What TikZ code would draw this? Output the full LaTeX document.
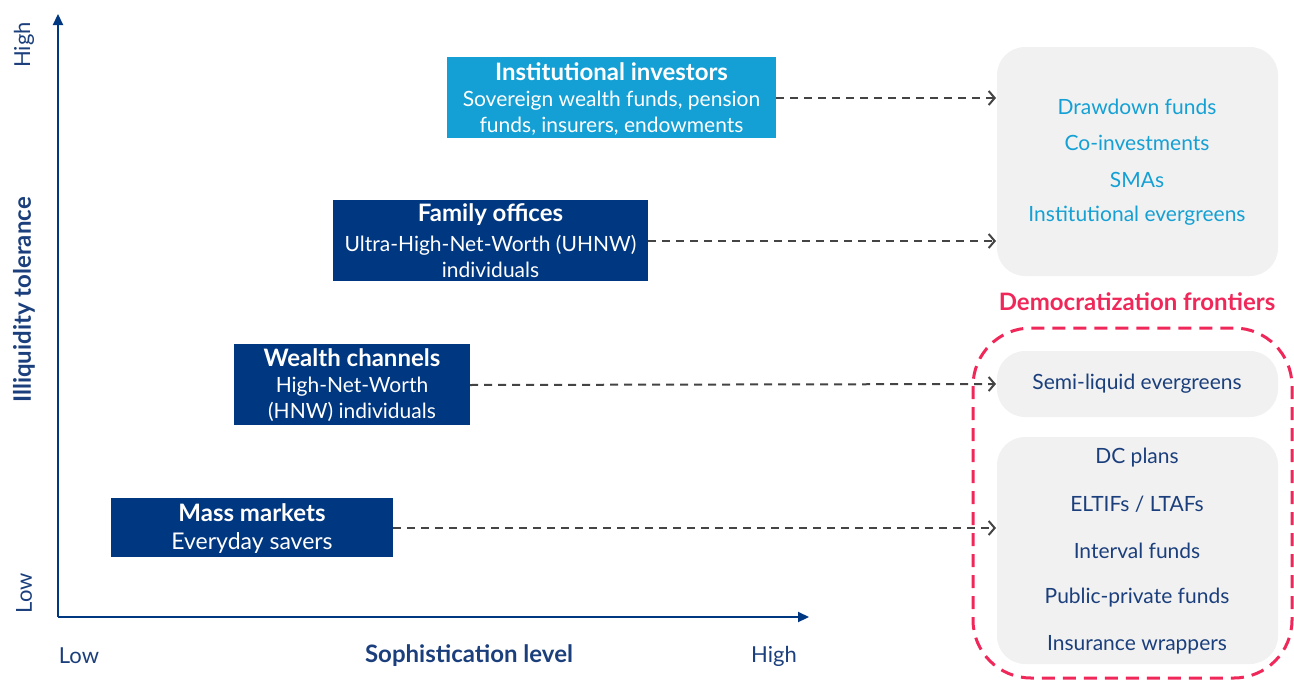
\documentclass[tikz,border=0pt]{standalone}
\usepackage{fontspec}
\setmainfont{Lato}
\usetikzlibrary{arrows.meta}
\definecolor{navy}{HTML}{003781}
\definecolor{navytext}{HTML}{1B3F7C}
\definecolor{skyblue}{HTML}{14A0D4}
\definecolor{panelgrey}{HTML}{F1F1F1}
\definecolor{frontier}{HTML}{F0285A}
\definecolor{linkgrey}{HTML}{444444}
\tikzset{
  x=1pt, y=-1pt,
  axis/.style={draw=navy, line width=2.2pt, -{Triangle[length=11pt,width=10pt]}},
  axislabel/.style={text=navytext, font=\fontsize{22}{26}\selectfont},
  axistitle/.style={text=navytext, font=\bfseries\fontsize{24}{28}\selectfont},
  boxtitle/.style={text=white, font=\bfseries\fontsize{24}{28}\selectfont, inner sep=0pt},
  boxbody/.style={text=white, align=center, font=\fontsize{21}{26}\selectfont, inner sep=0pt},
  link/.style={draw=linkgrey, line width=2pt, dash pattern=on 8pt off 6pt,
    -{Straight Barb[length=6pt,width=14pt,line width=2pt]}},
  panel/.style={fill=panelgrey, rounded corners=28pt},
  item/.style={font=\fontsize{21}{25}\selectfont},
}
\begin{document}
\begin{tikzpicture}
\useasboundingbox (0,0) rectangle (1294,680);

% axes
\coordinate (origin) at (58,617);
\coordinate (ytip) at (58,14);
\coordinate (xtip) at (809,617);
\draw[axis] (origin) -- (ytip);
\draw[axis] (origin) -- (xtip);
\node[axislabel, rotate=90] (yhigh) at (24,45) {High};
\node[axislabel, rotate=90] (ylow) at (24,593) {Low};
\node[axistitle, rotate=90] (ytitle) at (24,300) {Illiquidity tolerance};
\node[axislabel] (xlow) at (79,656) {Low};
\node[axistitle] (xtitle) at (469,656) {Sophistication level};
\node[axislabel] (xhigh) at (774,656) {High};

% investor segments
\fill[skyblue] (447,57) rectangle (776,138);
\node[boxtitle] (inst) at (611.5,72) {Institutional investors};
\node[boxbody] (instbody) at (611.5,113)
  {Sovereign wealth funds, pension\\funds, insurers, endowments};
\coordinate (instR) at (776,98);

\fill[navy] (333,200) rectangle (648,281);
\node[boxtitle] (family) at (490.5,215) {Family offices};
\node[boxbody] (familybody) at (490.5,256)
  {Ultra-High-Net-Worth (UHNW)\\individuals};
\coordinate (familyR) at (648,241);

\fill[navy] (234,344) rectangle (470,425);
\node[boxtitle] (wealth) at (352,358) {Wealth channels};
\node[boxbody] (wealthbody) at (352,399)
  {High-Net-Worth\\(HNW) individuals};
\coordinate (wealthR) at (470,385);

\fill[navy] (111,498) rectangle (393,557);
\node[boxtitle] (mass) at (252,513) {Mass markets};
\node[boxbody, font=\fontsize{23}{27}\selectfont] (massbody) at (252,543) {Everyday savers};
\coordinate (massR) at (393,528);

% product panels
\fill[panel] (997,47) rectangle (1278,276);
\node[item, text=skyblue] (drawdown) at (1137,107) {Drawdown funds};
\node[item, text=skyblue] (coinv) at (1137,143) {Co-investments};
\node[item, text=skyblue] (smas) at (1137,180) {SMAs};
\node[item, text=skyblue] (insteg) at (1137,216) {Institutional evergreens};

\node[text=frontier, font=\bfseries\fontsize{24}{28}\selectfont] (frontiers) at (1137,302) {Democratization frontiers};
\draw[frontier, line width=3pt, dash pattern=on 13pt off 8pt, rounded corners=58pt]
  (973,328) rectangle (1292,678);

\fill[panelgrey, rounded corners=28pt] (997,351) rectangle (1278,417);
\node[item, text=navytext] (semiliq) at (1137,384) {Semi-liquid evergreens};

\fill[panel] (997,437) rectangle (1278,664);
\node[item, text=navytext] (dc) at (1137,458) {DC plans};
\node[item, text=navytext] (eltif) at (1137,504) {ELTIFs / LTAFs};
\node[item, text=navytext] (interval) at (1137,551) {Interval funds};
\node[item, text=navytext] (pubpriv) at (1137,598) {Public-private funds};
\node[item, text=navytext] (insw) at (1137,645) {Insurance wrappers};

% connectors
\coordinate (instT) at (996,98);
\coordinate (familyT) at (996,241);
\coordinate (wealthT) at (996,384);
\coordinate (massT) at (996,528);
\draw[link] (instR) -- (instT);
\draw[link] (familyR) -- (familyT);
\draw[link] (wealthR) -- (wealthT);
\draw[link] (massR) -- (massT);
\end{tikzpicture}
\end{document}
